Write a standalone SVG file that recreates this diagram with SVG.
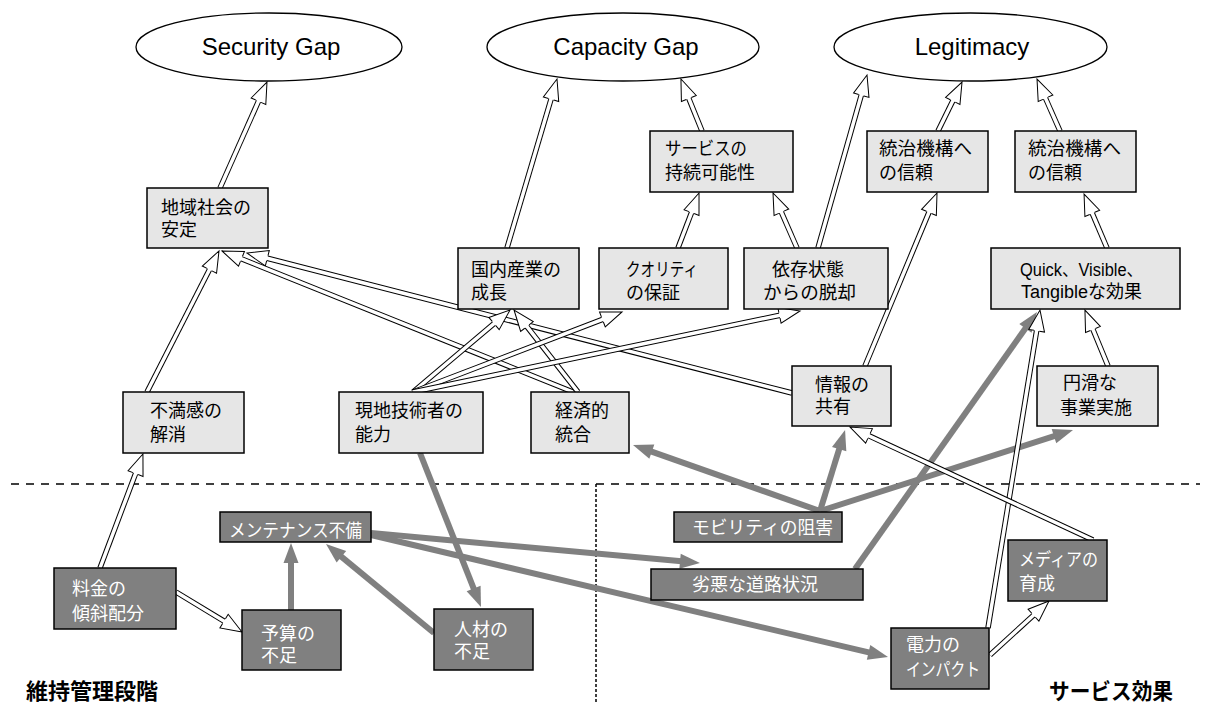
<svg xmlns="http://www.w3.org/2000/svg" width="1205" height="703" viewBox="0 0 1205 703">
  <style>
    .lb { fill: #e6e6e6; stroke: #000; stroke-width: 1.5; }
    .db { fill: #808080; stroke: #000; stroke-width: 1.5; }
    .el { fill: #fff; stroke: #000; stroke-width: 1.3; }
    .t  { font-family: "Liberation Sans", "Noto Sans CJK JP", sans-serif; font-size: 18px; fill: #000; }
    .tw { font-family: "Liberation Sans", "Noto Sans CJK JP", sans-serif; font-size: 18px; fill: #fff; }
    .te { font-family: "Liberation Sans", "Noto Sans CJK JP", sans-serif; font-size: 24px; fill: #000; text-anchor: middle; }
    .lab { font-family: "Noto Sans CJK JP", sans-serif; font-size: 22px; font-weight: 700; fill: #000; }
    .ho { stroke: #000; stroke-width: 5.5; fill: none; }
    .hi { stroke: #fff; stroke-width: 3.5; fill: none; marker-end: url(#mh); }
    .g  { stroke: #808080; stroke-width: 6; fill: none; marker-end: url(#mg); }
  </style>
  <defs>
    <!-- hollow (outlined) arrowhead; line ends 3px past the head base -->
    <marker id="mh" markerUnits="userSpaceOnUse" orient="auto" refX="3" refY="0" markerWidth="24" markerHeight="18" style="overflow:visible">
      <path d="M0,-8 L21,0 L0,8 Z" fill="#fff"/>
      <path d="M0,-2.75 V-8 L21,0 L0,8 V2.75" fill="none" stroke="#000" stroke-width="1"/>
    </marker>
    <!-- solid grey arrowhead -->
    <marker id="mg" markerUnits="userSpaceOnUse" orient="auto" refX="10" refY="0" markerWidth="24" markerHeight="18" style="overflow:visible">
      <path d="M0,-7.5 L20,0 L0,7.5 Z" fill="#808080"/>
    </marker>
  </defs>

  <rect width="1205" height="703" fill="#fff"/>

  <!-- stage dividers -->
  <g id="dividers">
    <line x1="11" y1="484" x2="1200" y2="484" stroke="#000" stroke-width="1.3" stroke-dasharray="8 7"/>
    <line x1="596" y1="484" x2="596" y2="703" stroke="#000" stroke-width="1.5" stroke-dasharray="3 2"/>
  </g>

  <g id="connectors">
    <!-- grey causal arrows -->
    <line class="g" x1="291" y1="610" x2="291" y2="553"/>
    <line class="g" x1="434" y1="633" x2="333.7" y2="550.4"/>
    <line class="g" x1="420" y1="453" x2="477.3" y2="597.7"/>
    <line class="g" x1="371" y1="533" x2="690" y2="562.1"/>
    <line class="g" x1="371" y1="535" x2="878.3" y2="654.7"/>
    <line class="g" x1="820" y1="511" x2="642.4" y2="448.3"/>
    <line class="g" x1="820" y1="511" x2="842.1" y2="439.6"/>
    <line class="g" x1="820" y1="511" x2="1063.5" y2="433.1"/>
    <line class="g" x1="855" y1="569" x2="1031.2" y2="320.2"/>

    <!-- hollow arrows: outline + inner -->
    <line class="ho" x1="220" y1="188" x2="259.7" y2="98.5"/><line class="hi" x1="220" y1="188" x2="259.7" y2="98.5"/>
    <line class="ho" x1="147" y1="392" x2="210.8" y2="267"/><line class="hi" x1="147" y1="392" x2="210.8" y2="267"/>
    <line class="ho" x1="100" y1="568" x2="136.6" y2="470.8"/><line class="hi" x1="100" y1="568" x2="136.6" y2="470.8"/>
    <line class="ho" x1="176" y1="592" x2="226.6" y2="622.7"/><line class="hi" x1="176" y1="592" x2="226.6" y2="622.7"/>
    <line class="ho" x1="507" y1="248" x2="551.9" y2="96.3"/><line class="hi" x1="507" y1="248" x2="551.9" y2="96.3"/>
    <line class="ho" x1="702" y1="131" x2="687.7" y2="95.7"/><line class="hi" x1="702" y1="131" x2="687.7" y2="95.7"/>
    <line class="ho" x1="678" y1="248" x2="692.6" y2="209.8"/><line class="hi" x1="678" y1="248" x2="692.6" y2="209.8"/>
    <line class="ho" x1="797" y1="248" x2="780.2" y2="209.5"/><line class="hi" x1="797" y1="248" x2="780.2" y2="209.5"/>
    <line class="ho" x1="818" y1="248" x2="862.1" y2="92.3"/><line class="hi" x1="818" y1="248" x2="862.1" y2="92.3"/>
    <line class="ho" x1="938" y1="131" x2="954.1" y2="98.2"/><line class="hi" x1="938" y1="131" x2="954.1" y2="98.2"/>
    <line class="ho" x1="1060" y1="131" x2="1044.3" y2="95.5"/><line class="hi" x1="1060" y1="131" x2="1044.3" y2="95.5"/>
    <line class="ho" x1="865" y1="366" x2="930.1" y2="209.6"/><line class="hi" x1="865" y1="366" x2="930.1" y2="209.6"/>
    <line class="ho" x1="1107" y1="248" x2="1091.1" y2="210.6"/><line class="hi" x1="1107" y1="248" x2="1091.1" y2="210.6"/>
    <line class="ho" x1="1108" y1="366" x2="1091.8" y2="326.7"/><line class="hi" x1="1108" y1="366" x2="1091.8" y2="326.7"/>
    <line class="ho" x1="988" y1="628" x2="1037.1" y2="327.8"/><line class="hi" x1="988" y1="628" x2="1037.1" y2="327.8"/>
    <line class="ho" x1="990" y1="655" x2="1035.7" y2="613.2"/><line class="hi" x1="990" y1="655" x2="1035.7" y2="613.2"/>
    <line class="ho" x1="1093" y1="540" x2="866.3" y2="434.6"/><line class="hi" x1="1093" y1="540" x2="866.3" y2="434.6"/>
    <line class="ho" x1="792" y1="393" x2="264.4" y2="257.5"/><line class="hi" x1="792" y1="393" x2="264.4" y2="257.5"/>
    <line class="ho" x1="573" y1="392" x2="238.7" y2="257.7"/><line class="hi" x1="573" y1="392" x2="238.7" y2="257.7"/>
    <line class="ho" x1="578" y1="392" x2="525.1" y2="324.2"/><line class="hi" x1="578" y1="392" x2="525.1" y2="324.2"/>
    <line class="ho" x1="413" y1="392" x2="496.3" y2="321.6"/><line class="hi" x1="413" y1="392" x2="496.3" y2="321.6"/>
    <line class="ho" x1="413" y1="392" x2="605.2" y2="318.4"/><line class="hi" x1="413" y1="392" x2="605.2" y2="318.4"/>
    <line class="ho" x1="413" y1="392" x2="782.4" y2="314.7"/><line class="hi" x1="413" y1="392" x2="782.4" y2="314.7"/>
  </g>

  <!-- goals -->
  <g id="n-security"><ellipse class="el" cx="269" cy="47" rx="133" ry="34"/><text class="te" x="271" y="55">Security Gap</text></g>
  <g id="n-capacity"><ellipse class="el" cx="623" cy="47" rx="136" ry="34"/><text class="te" x="626" y="55">Capacity Gap</text></g>
  <g id="n-legitimacy"><ellipse class="el" cx="970.5" cy="47" rx="136.5" ry="34"/><text class="te" x="972" y="55">Legitimacy</text></g>

  <!-- outcome nodes -->
  <g id="n-chiiki"><rect class="lb" x="147" y="188" width="121" height="60"/><text class="t" x="161" y="214">地域社会の</text><text class="t" x="161" y="236">安定</text></g>
  <g id="n-fuman"><rect class="lb" x="123" y="392" width="121" height="61"/><text class="t" x="150" y="417">不満感の</text><text class="t" x="150" y="441">解消</text></g>
  <g id="n-genchi"><rect class="lb" x="339" y="392" width="144" height="61"/><text class="t" x="355" y="417">現地技術者の</text><text class="t" x="355" y="441">能力</text></g>
  <g id="n-keizai"><rect class="lb" x="531" y="392" width="98" height="61"/><text class="t" x="555" y="417">経済的</text><text class="t" x="555" y="441">統合</text></g>
  <g id="n-kokunai"><rect class="lb" x="458" y="248" width="121" height="61"/><text class="t" x="471" y="276">国内産業の</text><text class="t" x="471" y="299">成長</text></g>
  <g id="n-quality"><rect class="lb" x="599" y="248" width="129" height="61"/><text class="t" x="626" y="276" textLength="72" lengthAdjust="spacingAndGlyphs">クオリティ</text><text class="t" x="626" y="299">の保証</text></g>
  <g id="n-izon"><rect class="lb" x="744" y="248" width="144" height="61"/><text class="t" x="772" y="276">依存状態</text><text class="t" x="763" y="299" textLength="93" lengthAdjust="spacingAndGlyphs">からの脱却</text></g>
  <g id="n-service"><rect class="lb" x="650" y="131" width="143" height="61"/><text class="t" x="665" y="155" textLength="82" lengthAdjust="spacingAndGlyphs">サービスの</text><text class="t" x="665" y="179">持続可能性</text></g>
  <g id="n-touchi1"><rect class="lb" x="867" y="131" width="121" height="61"/><text class="t" x="879" y="155" textLength="93" lengthAdjust="spacingAndGlyphs">統治機構へ</text><text class="t" x="879" y="179">の信頼</text></g>
  <g id="n-touchi2"><rect class="lb" x="1015" y="131" width="121" height="61"/><text class="t" x="1028" y="155" textLength="93" lengthAdjust="spacingAndGlyphs">統治機構へ</text><text class="t" x="1028" y="179">の信頼</text></g>
  <g id="n-quick"><rect class="lb" x="991" y="248" width="189" height="61"/><text class="t" x="1020" y="276" textLength="123" lengthAdjust="spacingAndGlyphs">Quick、Visible、</text><text class="t" x="1021" y="298">Tangibleな効果</text></g>
  <g id="n-joho"><rect class="lb" x="792" y="366" width="99" height="60"/><text class="t" x="815" y="391">情報の</text><text class="t" x="815" y="413">共有</text></g>
  <g id="n-enkatsu"><rect class="lb" x="1037" y="366" width="121" height="60"/><text class="t" x="1063" y="389">円滑な</text><text class="t" x="1060" y="414">事業実施</text></g>

  <!-- operation-stage nodes -->
  <g id="n-maint"><rect class="db" x="220" y="512" width="151" height="30"/><text class="tw" x="229" y="537" textLength="133" lengthAdjust="spacingAndGlyphs">メンテナンス不備</text></g>
  <g id="n-ryokin"><rect class="db" x="54" y="568" width="122" height="61"/><text class="tw" x="72" y="595">料金の</text><text class="tw" x="72" y="620">傾斜配分</text></g>
  <g id="n-yosan"><rect class="db" x="242" y="610" width="99" height="60"/><text class="tw" x="261" y="640">予算の</text><text class="tw" x="261" y="662">不足</text></g>
  <g id="n-jinzai"><rect class="db" x="434" y="609" width="99" height="61"/><text class="tw" x="454" y="636">人材の</text><text class="tw" x="454" y="658">不足</text></g>

  <!-- service-effect nodes -->
  <g id="n-mobility"><rect class="db" x="674" y="512" width="168" height="30"/><text class="tw" x="692" y="534" textLength="141" lengthAdjust="spacingAndGlyphs">モビリティの阻害</text></g>
  <g id="n-road"><rect class="db" x="651" y="569" width="212" height="31"/><text class="tw" x="692" y="591">劣悪な道路状況</text></g>
  <g id="n-media"><rect class="db" x="1008" y="540" width="99" height="61"/><text class="tw" x="1019" y="566" textLength="79" lengthAdjust="spacingAndGlyphs">メディアの</text><text class="tw" x="1019" y="590">育成</text></g>
  <g id="n-denryoku"><rect class="db" x="891" y="628" width="98" height="61"/><text class="tw" x="906" y="651">電力の</text><text class="tw" x="906" y="676" textLength="74" lengthAdjust="spacingAndGlyphs">インパクト</text></g>

  <!-- stage labels -->
  <text class="lab" x="26" y="699">維持管理段階</text>
  <text class="lab" x="1049" y="699" textLength="124" lengthAdjust="spacingAndGlyphs">サービス効果</text>
</svg>
